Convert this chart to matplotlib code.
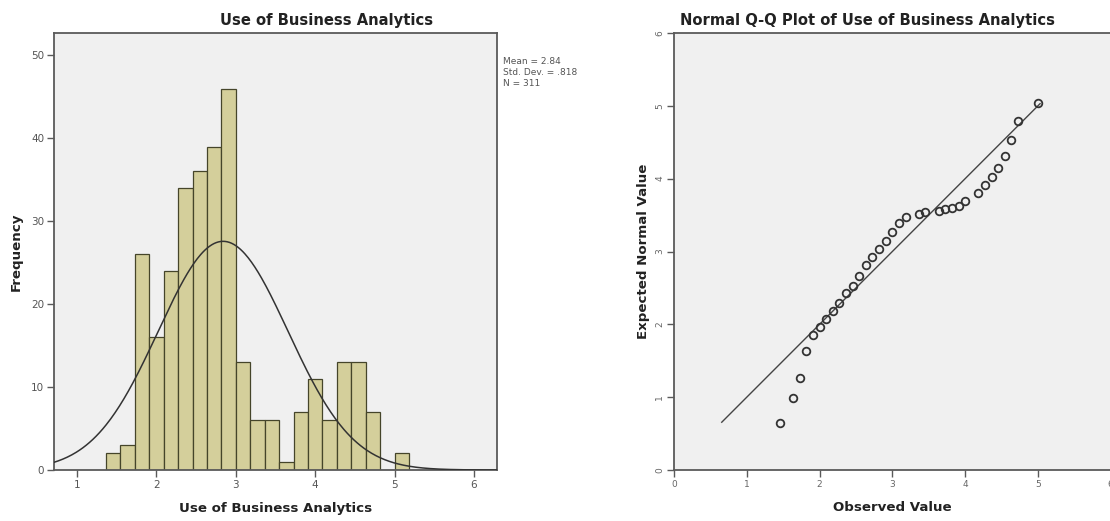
import matplotlib.pyplot as plt
import numpy as np

plt.rcParams["font.family"] = ["DejaVu Sans"]

# --- histogram data --------------------------------------------------------
BIN_START = 3.0 - 9 * 2 / 11
BIN_WIDTH = 2 / 11
counts = [2, 3, 26, 16, 24, 34, 36, 39, 46,
          13, 6, 6, 1, 7, 11, 6, 13, 13, 7, 0, 2]
MEAN = 2.84
STD = 0.818
N = 311

# --- Q-Q plot data ----------------------------------------------------------
observed = [1.455, 1.636, 1.727, 1.818, 1.909, 2.0, 2.091, 2.182, 2.273,
            2.364, 2.455, 2.545, 2.636, 2.727, 2.818, 2.909, 3.0, 3.091,
            3.182, 3.364, 3.455, 3.636, 3.727, 3.818, 3.909, 4.0, 4.182,
            4.273, 4.364, 4.455, 4.545, 4.636, 4.727, 5.0]
expected = [0.64, 0.99, 1.27, 1.63, 1.86, 1.97, 2.07, 2.18, 2.29,
            2.43, 2.53, 2.66, 2.81, 2.93, 3.03, 3.14, 3.27, 3.39,
            3.47, 3.51, 3.54, 3.55, 3.58, 3.60, 3.62, 3.69, 3.80,
            3.91, 4.02, 4.14, 4.31, 4.53, 4.79, 5.04]

BG = "#f0f0f0"
SPINE = "#5a5a5a"
TICK_C = "#555555"
LABEL_KW = dict(fontsize=9.6, fontweight="bold", color="#222222")
TITLE_KW = dict(fontsize=10.6, fontweight="bold", color="#222222",
                ha="center", va="center")

fig = plt.figure(figsize=(11.1, 5.21), dpi=100)

# --- histogram --------------------------------------------------------------
ax1 = fig.add_axes([54 / 1110, 51 / 521, 443 / 1110, 437 / 521])
ax1.set_facecolor(BG)
lefts = BIN_START + BIN_WIDTH * np.arange(len(counts))
ax1.bar(lefts, counts, width=BIN_WIDTH, align="edge",
        color="#d4cf9b", edgecolor="#45452a", linewidth=0.9, zorder=2)

# fitted normal curve from the stats shown in the chart
xs = np.linspace(0.71, 6.29, 400)
pdf = N * BIN_WIDTH / (STD * np.sqrt(2 * np.pi)) * np.exp(-0.5 * ((xs - MEAN) / STD) ** 2)
ax1.plot(xs, pdf, color="#333333", lw=1.1, zorder=3)

ax1.set_xlim(0.71, 6.29)
ax1.set_ylim(0, 52.7)
ax1.set_xticks([1, 2, 3, 4, 5, 6])
ax1.set_yticks([0, 10, 20, 30, 40, 50])
ax1.tick_params(axis="both", direction="out", length=5, width=1.0,
                color=SPINE, labelsize=7.5, labelcolor=TICK_C, pad=2)
for s in ax1.spines.values():
    s.set_color(SPINE)
    s.set_linewidth(1.3)
ax1.set_xlabel("Use of Business Analytics", labelpad=9, **LABEL_KW)
ax1.set_ylabel("Frequency", labelpad=6, **LABEL_KW)

fig.text(327 / 1110, 1 - 20 / 521, "Use of Business Analytics", **TITLE_KW)
fig.text(503 / 1110, 1 - 57 / 521,
         f"Mean = {MEAN:.2f}\nStd. Dev. = .818\nN = {N}",
         ha="left", va="top", fontsize=6.5, color="#555555", linespacing=1.3)

# --- Q-Q plot -----------------------------------------------------------------
ax2 = fig.add_axes([674 / 1110, 51 / 521, 436.7 / 1110, 437 / 521])
ax2.set_facecolor(BG)
line_lo, line_hi = 0.656, 5.03
ax2.plot([line_lo, line_hi], [line_lo, line_hi], color="#444444", lw=1.0,
         zorder=2)
ax2.plot(observed, expected, ls="none", marker="o", ms=5.5, mfc="none",
         mec="#333333", mew=1.3, zorder=3)
ax2.set_xlim(0, 6)
ax2.set_ylim(0, 6)
ax2.set_xticks(range(7))
ax2.set_yticks(range(7))
ax2.tick_params(axis="both", direction="out", length=5, width=1.0,
                color=SPINE, labelsize=6.5, labelcolor="#666666", pad=2)
for lbl in ax2.get_yticklabels():
    lbl.set_rotation(90)
    lbl.set_va("center")
ax2.spines["right"].set_visible(False)
for k in ("left", "bottom", "top"):
    ax2.spines[k].set_color(SPINE)
    ax2.spines[k].set_linewidth(1.3)
ax2.set_xlabel("Observed Value", labelpad=9, **LABEL_KW)
ax2.set_ylabel("Expected Normal Value", labelpad=4, **LABEL_KW)

fig.text(868 / 1110, 1 - 20 / 521,
         "Normal Q-Q Plot of Use of Business Analytics", **TITLE_KW)

fig.savefig("out.png", dpi=100)
